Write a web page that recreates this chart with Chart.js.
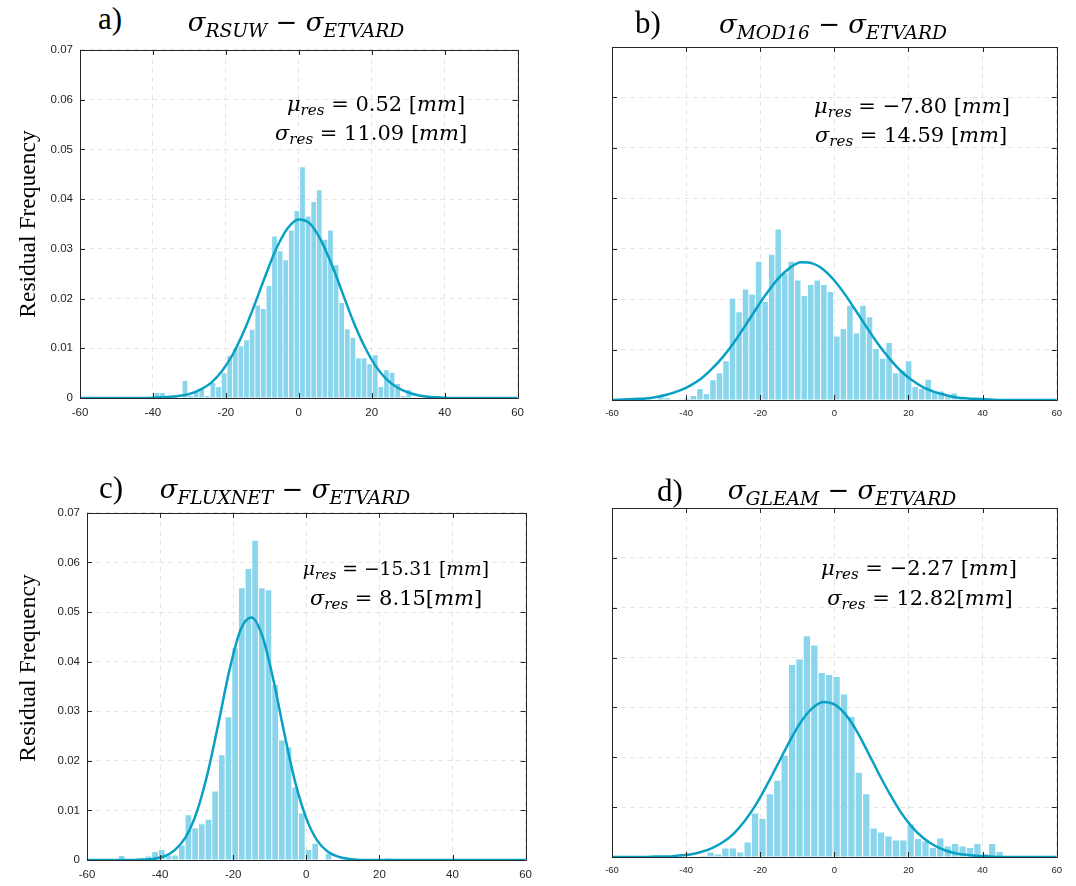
<!DOCTYPE html>
<html>
<head>
<meta charset="utf-8">
<script src="https://cdn.jsdelivr.net/npm/chart.js@4.4.1/dist/chart.umd.min.js"></script>
<style>
body { margin: 0; background: #fff; width: 1076px; height: 886px; position: relative; overflow: hidden; }
canvas { position: absolute; }
.c { position: absolute; transform: translate(-50%, -50%); white-space: nowrap; line-height: 1; }
.lbl { font-family: 'Liberation Serif', serif; font-size: 31px; }
.ttl { font-family: 'DejaVu Serif', serif; font-size: 26px; }
.note { font-family: 'DejaVu Serif', serif; font-size: 21px; }
.ytl { font-family: 'Liberation Serif', serif; font-size: 23.5px; transform: translate(-50%, -50%) rotate(-90deg); }
sub { font-size: 0.72em; vertical-align: -0.3em; line-height: 0; }
</style>
</head>
<body>
<canvas id="pa" width="492" height="384" style="left:40px;top:36px"></canvas>
<canvas id="pb" width="498" height="385" style="left:572px;top:37px"></canvas>
<canvas id="pc" width="493" height="383" style="left:47px;top:499px"></canvas>
<canvas id="pd" width="498" height="381" style="left:572px;top:498px"></canvas>

<div class="c ytl" style="left:28px;top:224px">Residual Frequency</div>
<div class="c ytl" style="left:28px;top:668px">Residual Frequency</div>

<div class="c lbl" style="left:110px;top:18px">a)</div>
<div class="c lbl" style="left:648px;top:22px">b)</div>
<div class="c lbl" style="left:111px;top:487px">c)</div>
<div class="c lbl" style="left:670px;top:490px">d)</div>

<div class="c ttl" style="left:296px;top:22px"><i>σ</i><sub><i>RSUW</i></sub> − <i>σ</i><sub><i>ETVARD</i></sub></div>
<div class="c ttl" style="left:833px;top:24px"><i>σ</i><sub><i>MOD16</i></sub> − <i>σ</i><sub><i>ETVARD</i></sub></div>
<div class="c ttl" style="left:285px;top:489px"><i>σ</i><sub><i>FLUXNET</i></sub> − <i>σ</i><sub><i>ETVARD</i></sub></div>
<div class="c ttl" style="left:842px;top:490px"><i>σ</i><sub><i>GLEAM</i></sub> − <i>σ</i><sub><i>ETVARD</i></sub></div>

<div class="c note" style="left:376px;top:104px"><i>μ</i><sub><i>res</i></sub> = 0.52 [<i>mm</i>]</div>
<div class="c note" style="left:371px;top:133px"><i>σ</i><sub><i>res</i></sub> = 11.09 [<i>mm</i>]</div>
<div class="c note" style="left:912px;top:106px"><i>μ</i><sub><i>res</i></sub> = −7.80 [<i>mm</i>]</div>
<div class="c note" style="left:911px;top:135px"><i>σ</i><sub><i>res</i></sub> = 14.59 [<i>mm</i>]</div>
<div class="c note" style="left:396px;top:569px;font-size:18.7px"><i>μ</i><sub><i>res</i></sub> = −15.31 [<i>mm</i>]</div>
<div class="c note" style="left:396px;top:598px"><i>σ</i><sub><i>res</i></sub> = 8.15[<i>mm</i>]</div>
<div class="c note" style="left:919px;top:568px"><i>μ</i><sub><i>res</i></sub> = −2.27 [<i>mm</i>]</div>
<div class="c note" style="left:920px;top:598px"><i>σ</i><sub><i>res</i></sub> = 12.82[<i>mm</i>]</div>

<script>
// histogram bins: first bin centre, bin width, residual frequency per bin
var binStartA = -38.9, binWidthA = 1.535;
var freqA = [0.001, 0.001, 0, 0, 0, 0.0034, 0.0004, 0.0012, 0.002, 0.0004, 0.003, 0.0022, 0.005, 0.0085,
    0.0099, 0.0104, 0.0116, 0.0137, 0.0186, 0.0179, 0.0225, 0.0325, 0.0295, 0.0277, 0.0337, 0.0376, 0.0464,
    0.0365, 0.0394, 0.0418, 0.0318, 0.0337, 0.0267, 0.0191, 0.0138, 0.0121, 0.008, 0.008, 0.0068, 0.0086,
    0.0022, 0.0056, 0.0051, 0.0028, 0.0004, 0.0016];

var binStartB = -46.84, binWidthB = 1.76;
var freqB = [0.0005, 0.0004, 0, 0, 0.0003, 0.0008, 0.0022, 0.0012, 0.0039, 0.0053, 0.0077, 0.0201, 0.0174,
    0.0219, 0.0209, 0.0274, 0.0195, 0.0288, 0.0338, 0.0251, 0.0274, 0.0237, 0.0206, 0.0228, 0.0237, 0.0228,
    0.0214, 0.0126, 0.0141, 0.0187, 0.0132, 0.0187, 0.0164, 0.0101, 0.0082, 0.0113, 0.0053, 0.0058, 0.0077,
    0.0026, 0.0022, 0.0040, 0.0017, 0.0017, 0.0007, 0.0013, 0.0005];

var binStartC = -50.5, binWidthC = 1.825;
var freqC = [0.0008, 0, 0, 0, 0.0007, 0.0016, 0.002, 0.0009, 0.0009, 0.0029, 0.009, 0.0064, 0.0072, 0.0081,
    0.0138, 0.0211, 0.0288, 0.0427, 0.0548, 0.0587, 0.0644, 0.0548, 0.0544, 0.0353, 0.0241, 0.0227, 0.0146,
    0.0094, 0.002, 0.0033, 0, 0.0012, 0, 0, 0, 0, 0, 0, 0, 0, 0.0003];

var binStartD = -35.4, binWidthD = 2.0;
var freqD = [0.0002, 0.0009, 0.0005, 0.0017, 0.0017, 0.0009, 0.0029, 0.0087, 0.0076, 0.0126, 0.0153, 0.0203,
    0.0385, 0.0396, 0.0443, 0.0424, 0.0369, 0.0365, 0.0361, 0.0326, 0.0281, 0.0169, 0.0126, 0.0057, 0.0049,
    0.0041, 0.0033, 0.0033, 0.0065, 0.0036, 0.0031, 0.0018, 0.0037, 0.0021, 0.0026, 0.0021, 0.0018, 0.0026,
    0.0006, 0.0026, 0.001];

// fitted normal curves, read at these x values
var curveX = [-60, -57, -54, -51, -48, -45, -42, -39, -36, -33, -30, -27, -24, -21, -18, -15, -12, -9, -6, -3,
    0, 3, 6, 9, 12, 15, 18, 21, 24, 27, 30, 33, 36, 39, 42, 45, 48, 51, 54, 57, 60];
var fitA = [0, 0, 0, 0, 0, 0, 0, 0.0001, 0.0002, 0.0004, 0.0008, 0.0017, 0.0031, 0.0055, 0.0089, 0.0135, 0.0190,
    0.0249, 0.0303, 0.0342, 0.0359, 0.0351, 0.0318, 0.0269, 0.0211, 0.0153, 0.0104, 0.0065, 0.0038, 0.0021,
    0.0011, 0.0005, 0.0002, 0.0001, 0, 0, 0, 0, 0, 0, 0];
var fitB = [0, 0.0001, 0.0002, 0.0003, 0.0006, 0.0011, 0.0018, 0.0028, 0.0042, 0.0062, 0.0086, 0.0115, 0.0148,
    0.0182, 0.0214, 0.0242, 0.0262, 0.0273, 0.0271, 0.0259, 0.0237, 0.0208, 0.0175, 0.0141, 0.0109, 0.0081,
    0.0057, 0.0039, 0.0025, 0.0016, 0.0010, 0.0005, 0.0003, 0.0002, 0.0001, 0, 0, 0, 0, 0, 0];
var fitC = [0, 0, 0, 0, 0, 0.0001, 0.0002, 0.0007, 0.0020, 0.0046, 0.0096, 0.0175, 0.0277, 0.0384, 0.0464,
    0.0489, 0.0451, 0.0363, 0.0255, 0.0156, 0.0084, 0.0039, 0.0016, 0.0006, 0.0002, 0, 0, 0, 0, 0, 0, 0, 0,
    0, 0, 0, 0, 0, 0, 0, 0];
var fitD = [0, 0, 0, 0, 0.0001, 0.0001, 0.0003, 0.0005, 0.0010, 0.0018, 0.0030, 0.0048, 0.0074, 0.0107, 0.0147,
    0.0190, 0.0233, 0.0271, 0.0298, 0.0311, 0.0306, 0.0286, 0.0253, 0.0211, 0.0167, 0.0126, 0.0089, 0.0060,
    0.0038, 0.0023, 0.0013, 0.0007, 0.0004, 0.0002, 0.0001, 0, 0, 0, 0, 0, 0];

var xTicks = [-60, -40, -20, 0, 20, 40, 60];

// box round the plot with inward ticks on all four sides (matlab look)
var boxPlugin = {
    id: 'box',
    afterDraw: function (chart) {
        var ctx = chart.ctx, a = chart.chartArea, sx = chart.scales.x, sy = chart.scales.y;
        ctx.save();
        ctx.strokeStyle = '#262626';
        ctx.lineWidth = 1;
        ctx.beginPath();
        ctx.rect(Math.round(a.left) + 0.5, Math.round(a.top) + 0.5,
            Math.round(a.right - a.left), Math.round(a.bottom - a.top));
        sx.ticks.forEach(function (t) {
            var px = Math.round(sx.getPixelForValue(t.value)) + 0.5;
            ctx.moveTo(px, a.bottom); ctx.lineTo(px, a.bottom - 5);
            ctx.moveTo(px, a.top); ctx.lineTo(px, a.top + 5);
        });
        sy.ticks.forEach(function (t) {
            var py = Math.round(sy.getPixelForValue(t.value)) + 0.5;
            ctx.moveTo(a.left, py); ctx.lineTo(a.left + 5, py);
            ctx.moveTo(a.right, py); ctx.lineTo(a.right - 5, py);
        });
        ctx.stroke();
        ctx.restore();
    }
};

function drawPanel(id, binStart, binWidth, freq, fit, showY, tickSize) {
    var bars = freq.map(function (v, i) { return { x: binStart + i * binWidth, y: v }; });
    var line = curveX.map(function (x, i) { return { x: x, y: fit[i] }; });
    new Chart(document.getElementById(id), {
        data: {
            datasets: [{
                type: 'line',
                data: line,
                borderColor: '#0aa0c4',
                borderWidth: 2.5,
                pointRadius: 0,
                cubicInterpolationMode: 'monotone',
                order: 0
            }, {
                type: 'bar',
                data: bars,
                backgroundColor: 'rgb(137, 214, 236)',
                borderWidth: 0,
                barPercentage: 0.85,
                categoryPercentage: 1,
                order: 1
            }]
        },
        options: {
            responsive: false,
            animation: false,
            plugins: { legend: { display: false }, tooltip: { enabled: false } },
            layout: { padding: { top: 10, right: 12, left: 0, bottom: 0 } },
            scales: {
                x: {
                    type: 'linear', min: -60, max: 60, offset: false,
                    afterBuildTicks: function (s) { s.ticks = xTicks.map(function (v) { return { value: v }; }); },
                    afterFit: function (s) { s.height = 22; },
                    ticks: { color: '#262626', padding: 8, maxRotation: 0, font: { family: 'Liberation Sans', size: tickSize } },
                    grid: { color: '#e6e6e6', drawTicks: false, offset: false },
                    border: { display: false, dash: [5, 4] }
                },
                y: {
                    min: 0, max: 0.07,
                    afterFit: function (s) { s.width = 40; },
                    ticks: {
                        stepSize: 0.01, display: showY, color: '#262626', padding: 7,
                        font: { family: 'Liberation Sans', size: 11.5 },
                        callback: function (v) { return v === 0 ? '0' : v.toFixed(2); }
                    },
                    grid: { color: '#e6e6e6', drawTicks: false },
                    border: { display: false, dash: [5, 4] }
                }
            }
        },
        plugins: [boxPlugin]
    });
}

drawPanel('pa', binStartA, binWidthA, freqA, fitA, true, 11.5);
drawPanel('pb', binStartB, binWidthB, freqB, fitB, false, 9.5);
drawPanel('pc', binStartC, binWidthC, freqC, fitC, true, 11.5);
drawPanel('pd', binStartD, binWidthD, freqD, fitD, false, 9.5);
</script>
</body>
</html>
